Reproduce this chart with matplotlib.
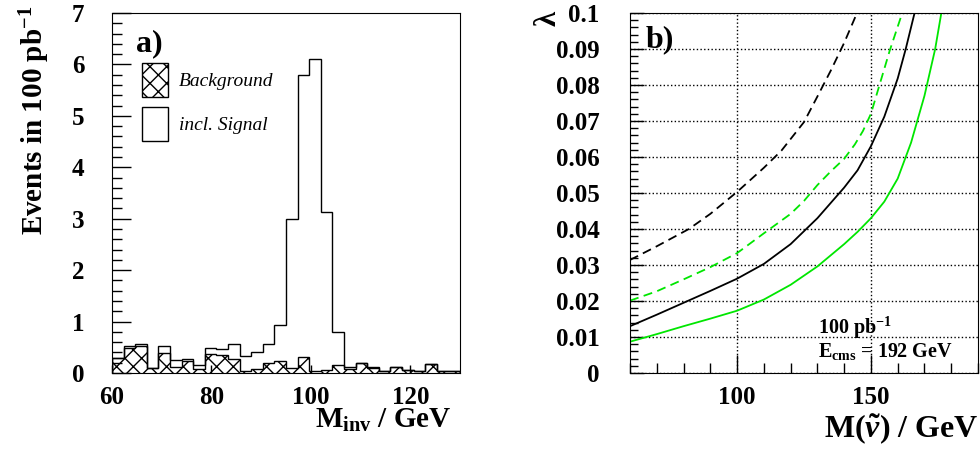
import matplotlib
matplotlib.use("Agg")
import matplotlib.pyplot as plt
import numpy as np
from matplotlib.patches import Patch
from matplotlib.ticker import MultipleLocator

plt.rcParams['font.family'] = ['Liberation Serif', 'DejaVu Serif']
plt.rcParams['font.weight'] = 'bold'
plt.rcParams['mathtext.fontset'] = 'custom'
plt.rcParams['mathtext.rm'] = 'Liberation Serif:bold'
plt.rcParams['mathtext.it'] = 'Liberation Serif:bold:italic'
plt.rcParams['mathtext.bf'] = 'Liberation Serif:bold'
plt.rcParams['hatch.linewidth'] = 1.0

# a) invariant mass histogram, 30 bins from 60 to 130 GeV
m_lo, m_hi, n_bins = 60, 130, 30
total = [0.30, 0.52, 0.56, 0.09, 0.52, 0.25, 0.27, 0.15, 0.49, 0.47,
         0.56, 0.34, 0.41, 0.56, 0.94, 3.00, 5.80, 6.10, 3.13, 0.80,
         0.12, 0.20, 0.12, 0.03, 0.12, 0.05, 0.03, 0.18, 0.03, 0.03]
background = [0.30, 0.48, 0.52, 0.09, 0.38, 0.12, 0.24, 0.07, 0.36, 0.35,
              0.27, 0.045, 0.08, 0.20, 0.24, 0.10, 0.32, 0.045, 0.06, 0.15,
              0.08, 0.20, 0.10, 0.03, 0.12, 0.05, 0.03, 0.18, 0.03, 0.03]

# b) lambda limits vs sneutrino mass
bd_m = [60, 70, 80, 82, 90, 100, 110, 116.6, 120, 125, 130, 135, 140, 144.8]
bd_l = [0.0314, 0.0352, 0.0392, 0.0400, 0.0442, 0.0503, 0.0570, 0.0618, 0.0650,
        0.0697, 0.0768, 0.0840, 0.0917, 0.1000]
gd_m = [60, 70, 80, 90, 100, 110, 120, 125, 130, 135, 140, 144, 147, 150, 153, 157, 161.7]
gd_l = [0.0201, 0.0227, 0.0260, 0.0294, 0.0333, 0.0388, 0.0442, 0.0478, 0.0522,
        0.0560, 0.0595, 0.0635, 0.0672, 0.0720, 0.0795, 0.0895, 0.1000]
bs_m = [60, 70, 80, 90, 100, 110, 120, 130, 140, 145, 150, 155, 160, 163, 166.3]
bs_l = [0.0130, 0.0162, 0.0195, 0.0228, 0.0262, 0.0303, 0.0358, 0.0430, 0.0515,
        0.0563, 0.0630, 0.0712, 0.0818, 0.0900, 0.1000]
gs_m = [60, 70, 80, 90, 100, 110, 120, 130, 140, 145, 150, 155, 160, 165, 170, 174, 176.3]
gs_l = [0.0087, 0.0108, 0.0130, 0.0151, 0.0173, 0.0204, 0.0245, 0.0296, 0.0358,
        0.0392, 0.0430, 0.0476, 0.0540, 0.0640, 0.0770, 0.0900, 0.1000]

green = '#00e600'

fig = plt.figure(figsize=(9.8, 4.5), dpi=100)

# ---- panel a)
ax1 = fig.add_axes([112 / 980, 77 / 450, 348 / 980, 360 / 450])
edges = np.linspace(m_lo, m_hi, n_bins + 1)
ax1.stairs(background, edges, fill=True, hatch='xx', facecolor='white',
           edgecolor='black', linewidth=1.0)
ax1.stairs(total, edges, color='black', linewidth=1.0)
ax1.set_xlim(m_lo, m_hi)
ax1.set_ylim(0, 7)
ax1.xaxis.set_major_locator(MultipleLocator(20))
ax1.yaxis.set_major_locator(MultipleLocator(1))
ax1.yaxis.set_minor_locator(MultipleLocator(0.2))
ax1.tick_params(axis='y', which='major', direction='in', length=14, width=1,
                labelsize=18, pad=20)
ax1.tick_params(axis='y', which='minor', direction='in', length=7, width=1)
ax1.tick_params(axis='x', which='major', direction='in', length=6, width=1,
                labelsize=18, pad=9)
ax1.text(0.07, 0.955, 'a)', transform=ax1.transAxes, fontsize=23,
         fontweight='bold', va='top', ha='left')
handles = [Patch(facecolor='white', edgecolor='black', hatch='xx', linewidth=1),
           Patch(facecolor='white', edgecolor='black', linewidth=1)]
ax1.legend(handles, ['Background', 'incl. Signal'], loc='upper left',
           bbox_to_anchor=(0.035, 0.91), frameon=False, handlelength=1.35,
           handleheight=2.3, labelspacing=0.55, handletextpad=0.55,
           prop={'family': 'Liberation Serif', 'style': 'italic',
                 'weight': 'normal', 'size': 14})
fig.text(35 / 980, 1 - 120 / 450, 'Events in 100 pb$^{-1}$', rotation=90,
         fontsize=21, fontweight='bold', ha='center', va='center')
fig.text(452 / 980, 1 - 420 / 450, 'M$_{\\mathrm{inv}}$ / GeV', fontsize=21,
         fontweight='bold', ha='right', va='center')

# ---- panel b)
ax2 = fig.add_axes([630 / 980, 77 / 450, 348 / 980, 360 / 450])
ax2.plot(bd_m, bd_l, color='black', linewidth=1.3, dashes=(5, 3))
ax2.plot(gd_m, gd_l, color=green, linewidth=1.3, dashes=(5, 3))
ax2.plot(bs_m, bs_l, color='black', linewidth=1.3)
ax2.plot(gs_m, gs_l, color=green, linewidth=1.3)
ax2.set_xlim(60, 190)
ax2.set_ylim(0, 0.1)
ax2.xaxis.set_major_locator(MultipleLocator(50))
ax2.xaxis.set_minor_locator(MultipleLocator(10))
ax2.yaxis.set_major_locator(MultipleLocator(0.01))
ax2.yaxis.set_minor_locator(MultipleLocator(0.002))
ax2.yaxis.set_major_formatter(plt.FuncFormatter(lambda v, p: f'{v:g}' if v > 0 else '0'))
ax2.grid(True, which='major', color='black', linestyle=':', linewidth=1.0)
ax2.tick_params(axis='y', which='major', direction='in', length=10, width=1,
                labelsize=18, pad=22)
ax2.tick_params(axis='y', which='minor', direction='in', length=6, width=1)
ax2.tick_params(axis='x', which='major', direction='in', length=13, width=1,
                labelsize=18, pad=9)
ax2.tick_params(axis='x', which='minor', direction='in', length=7, width=1)
ax2.text(0.045, 0.965, 'b)', transform=ax2.transAxes, fontsize=23,
         fontweight='bold', va='top', ha='left')
ax2.text(0.54, 0.125, '100 pb$^{-1}$', transform=ax2.transAxes, fontsize=14.5,
         fontweight='bold', ha='left', va='center')
ax2.text(0.54, 0.06, 'E$_{\\mathrm{cms}}$ = 192 GeV', transform=ax2.transAxes,
         fontsize=14.5, fontweight='bold', ha='left', va='center')
fig.text(548 / 980, 1 - 18 / 450, 'λ', rotation=90, fontsize=22,
         fontweight='bold', ha='center', va='center')
fig.text(978 / 980, 1 - 430 / 450, 'M($\\tilde{\\nu}$) / GeV', fontsize=23,
         fontweight='bold', ha='right', va='center')

fig.savefig('out.png', dpi=100)
